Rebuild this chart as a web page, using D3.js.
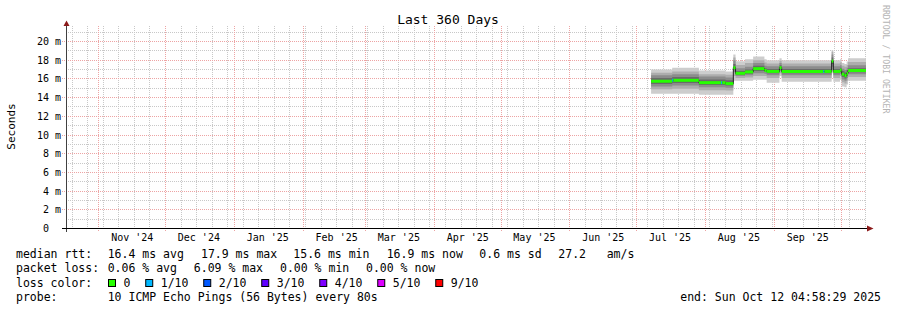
<!DOCTYPE html>
<meta charset="utf-8">
<style>
    body {
        margin: 0;
        background: #fff;
    }

    text {
        font-family: "DejaVu Sans Mono", monospace;
        fill: #000;
        white-space: pre;
    }

    .grid-minor line {
        stroke: #c8c8c8;
        stroke-dasharray: 1, 1;
    }

    .grid-major line {
        stroke: #eda4a4;
        stroke-dasharray: 1, 1;
    }

</style>
<svg width="897" height="310"></svg>
<script src="https://d3js.org/d3.v7.min.js"></script>
<script>
    var endTime = new Date("2025-10-12T04:58:29Z"),
        startTime = new Date(endTime.getTime() - 360 * 864e5);

    var yTicks = [0, 2, 4, 6, 8, 10, 12, 14, 16, 18, 20];
    var yTickLabels = ["0  ", "2 m", "4 m", "6 m", "8 m", "10 m", "12 m", "14 m", "16 m", "18 m", "20 m"];
    var yMinor = [1, 3, 5, 7, 9, 11, 13, 15, 17, 19, 21];

    var labelMonths = ["2024-11-01", "2024-12-01", "2025-01-01", "2025-02-01", "2025-03-01", "2025-04-01",
        "2025-05-01", "2025-06-01", "2025-07-01", "2025-08-01", "2025-09-01"];
    var monthLabels = ["Nov '24", "Dec '24", "Jan '25", "Feb '25", "Mar '25", "Apr '25",
        "May '25", "Jun '25", "Jul '25", "Aug '25", "Sep '25"];

    // one row per consolidated step (start time, median, loss in tenths, 10 sorted pings)
    var segStart = ["2025-07-07T12:00Z", "2025-07-17T00:00Z", "2025-07-17T12:00Z", "2025-07-29T00:00Z",
        "2025-08-08T00:00Z", "2025-08-08T12:00Z", "2025-08-10T00:00Z", "2025-08-13T12:00Z",
        "2025-08-14T12:00Z", "2025-08-18T18:00Z", "2025-08-22T10:00Z", "2025-08-27T12:00Z",
        "2025-08-28T12:00Z", "2025-09-03T06:00Z", "2025-09-04T06:00Z", "2025-09-23T00:00Z",
        "2025-09-23T12:00Z", "2025-09-26T18:00Z", "2025-09-27T12:00Z", "2025-09-30T12:00Z",
        "2025-10-01T06:00Z", "2025-10-02T12:00Z", "2025-10-03T12:00Z", "2025-10-04T03:00Z"];
    var medians = [15.75, 15.85, 15.85, 15.6, 15.6, 15.6, 15.5, 17.2, 16.6, 16.75, 17.1, 16.9,
        16.8, 17.2, 16.8, 16.8, 16.8, 17.9, 16.8, 16.95, 16.5, 16.35, 16.6, 16.9];
    var losses = [0, 1, 0, 0, 1, 0, 0, 0, 0, 0, 0, 0, 0, 0, 0, 1, 0, 0, 0, 0, 0, 0, 0, 0];
    var pings = [
        [14.4, 14.9, 15.2, 15.45, 15.65, 15.85, 16.1, 16.4, 16.65, 17.0],
        [14.4, 14.95, 15.3, 15.55, 15.75, 15.95, 16.2, 16.5, 16.8, 17.2],
        [14.4, 14.95, 15.3, 15.55, 15.75, 15.95, 16.2, 16.5, 16.8, 17.2],
        [14.3, 14.8, 15.1, 15.35, 15.5, 15.7, 15.95, 16.25, 16.5, 16.9],
        [14.3, 14.8, 15.1, 15.35, 15.5, 15.7, 15.95, 16.25, 16.5, 16.9],
        [14.3, 14.8, 15.1, 15.35, 15.5, 15.7, 15.95, 16.25, 16.5, 16.9],
        [14.3, 14.75, 15.05, 15.3, 15.45, 15.6, 15.85, 16.15, 16.45, 16.8],
        [15.8, 16.3, 16.7, 17.0, 17.15, 17.3, 17.6, 18.0, 18.3, 18.6],
        [15.8, 16.1, 16.3, 16.45, 16.55, 16.65, 16.85, 17.15, 17.5, 17.9],
        [15.8, 16.15, 16.4, 16.55, 16.7, 16.8, 17.0, 17.3, 17.7, 18.1],
        [15.9, 16.3, 16.6, 16.85, 17.05, 17.15, 17.4, 17.7, 18.0, 18.4],
        [15.9, 16.3, 16.55, 16.75, 16.85, 16.95, 17.15, 17.4, 17.75, 18.1],
        [15.6, 16.1, 16.4, 16.6, 16.75, 16.85, 17.05, 17.35, 17.65, 18.0],
        [16.3, 16.6, 16.85, 17.0, 17.15, 17.25, 17.45, 17.7, 17.95, 18.2],
        [15.7, 16.1, 16.4, 16.6, 16.75, 16.85, 17.05, 17.35, 17.65, 18.0],
        [15.7, 16.1, 16.4, 16.6, 16.75, 16.85, 17.05, 17.35, 17.65, 18.0],
        [15.7, 16.1, 16.4, 16.6, 16.75, 16.85, 17.05, 17.35, 17.65, 18.0],
        [16.6, 17.0, 17.3, 17.6, 17.8, 18.0, 18.3, 18.6, 18.9, 19.1],
        [15.7, 16.1, 16.4, 16.6, 16.75, 16.85, 17.05, 17.35, 17.65, 18.0],
        [15.9, 16.3, 16.55, 16.75, 16.9, 17.0, 17.2, 17.45, 17.75, 18.1],
        [15.2, 15.65, 15.95, 16.2, 16.4, 16.6, 16.85, 17.1, 17.4, 17.7],
        [15.1, 15.5, 15.8, 16.05, 16.25, 16.45, 16.7, 16.95, 17.3, 17.6],
        [15.4, 15.8, 16.1, 16.35, 16.5, 16.7, 16.95, 17.2, 17.5, 17.85],
        [15.8, 16.2, 16.5, 16.7, 16.85, 16.95, 17.15, 17.45, 17.8, 18.2]
    ];

    var lossLabels = ["0", "1/10", "2/10", "3/10", "4/10", "5/10", "9/10"];
    var lossColors = ["#26ff00", "#00b8ff", "#0059ff", "#5e00ff", "#7e00ff", "#dd00ff", "#ff0000"];
    var smokeShades = ["#cdcdcd", "#adadad", "#8c8c8c", "#6a6a6a", "#484848"];

    var rttStats = [16.4, 17.9, 15.6, 16.9], rttNames = ["avg", "max", "min", "now"];
    var rttSd = 0.6, rttAmS = 27.2;
    var lossStats = [0.06, 6.09, 0.00, 0.00];

    var svg = d3.select("svg");

    var x = d3.scaleUtc()
        .domain([startTime, endTime])
        .range([66, 866]);

    var y = d3.scaleLinear()
        .domain([0, 21.66])
        .range([228.5, 26]);

    var crisp = function (v) { return Math.round(v - 0.5) + 0.5; };

    // grid
    var minor = svg.append("g").attr("class", "grid-minor");
    minor.selectAll(".h").data(yMinor).enter().append("line")
        .attr("x1", 66).attr("x2", 866)
        .attr("y1", function (d) { return crisp(y(d)); })
        .attr("y2", function (d) { return crisp(y(d)); });
    minor.selectAll(".v").data(d3.utcSunday.range(startTime, endTime)).enter().append("line")
        .attr("x1", function (d) { return crisp(x(d)); })
        .attr("x2", function (d) { return crisp(x(d)); })
        .attr("y1", 26).attr("y2", 228);

    var major = svg.append("g").attr("class", "grid-major");
    major.selectAll(".h").data(yTicks.slice(1)).enter().append("line")
        .attr("x1", 62).attr("x2", 866)
        .attr("y1", function (d) { return crisp(y(d)); })
        .attr("y2", function (d) { return crisp(y(d)); });
    major.selectAll(".v").data(d3.utcMonth.range(startTime, endTime)).enter().append("line")
        .attr("x1", function (d) { return crisp(x(d)); })
        .attr("x2", function (d) { return crisp(x(d)); })
        .attr("y1", 26).attr("y2", 232);

    // smoke
    var steps = segStart.map(function (s, i) {
        return {t: new Date(s), med: medians[i], loss: losses[i], p: pings[i]};
    });
    var stepsEnd = steps.concat([Object.assign({}, steps[steps.length - 1], {t: endTime})]);

    smokeShades.forEach(function (shade, b) {
        var area = d3.area()
            .curve(d3.curveStepAfter)
            .x(function (d) { return x(d.t); })
            .y0(function (d) { return y(d.p[b]); })
            .y1(function (d) { return y(d.p[9 - b]); });
        svg.append("path")
            .datum(stepsEnd)
            .attr("fill", shade)
            .attr("d", area);
    });

    // median line: thin dark step line, then loss coloured bars
    svg.append("path")
        .datum(stepsEnd)
        .attr("fill", "none")
        .attr("stroke", "#202020")
        .attr("stroke-width", 1)
        .attr("d", d3.line().curve(d3.curveStepAfter)
            .x(function (d) { return x(d.t); })
            .y(function (d) { return y(d.med); }));

    svg.append("g").selectAll("line")
        .data(steps)
        .enter().append("line")
        .attr("x1", function (d) { return x(d.t); })
        .attr("x2", function (d, i) { return x(stepsEnd[i + 1].t); })
        .attr("y1", function (d) { return y(d.med); })
        .attr("y2", function (d) { return y(d.med); })
        .attr("stroke", function (d) { return lossColors[d.loss]; })
        .attr("stroke-width", 3);

    // axes
    svg.append("line")
        .attr("x1", 66.5).attr("x2", 66.5).attr("y1", 26).attr("y2", 232)
        .attr("stroke", "#404040");
    svg.append("line")
        .attr("x1", 62).attr("x2", 867).attr("y1", 228.5).attr("y2", 228.5)
        .attr("stroke", "#000");
    svg.append("path")
        .attr("d", "M63.5,26L66.5,20.5L69.5,26Z")
        .attr("fill", "#8b1a1a");
    svg.append("path")
        .attr("d", "M867,225.5L873.5,228.5L867,231.5Z")
        .attr("fill", "#8b1a1a");

    svg.append("g").selectAll("text")
        .data(yTicks)
        .enter().append("text")
        .attr("x", 61)
        .attr("y", function (d) { return y(d); })
        .attr("dy", ".35em")
        .attr("text-anchor", "end")
        .style("font-size", "10px")
        .text(function (d, i) { return yTickLabels[i]; });

    svg.append("g").selectAll("text")
        .data(labelMonths)
        .enter().append("text")
        .attr("x", function (d) { return x(d3.utcDay.offset(new Date(d + "T00:00Z"), 15)); })
        .attr("y", 241)
        .attr("text-anchor", "middle")
        .style("font-size", "10px")
        .text(function (d, i) { return monthLabels[i]; });

    // titles
    svg.append("text")
        .attr("x", 448).attr("y", 24)
        .attr("text-anchor", "middle")
        .style("font-size", "13px")
        .text("Last 360 Days");

    svg.append("text")
        .attr("transform", "translate(15,126.5) rotate(-90)")
        .attr("text-anchor", "middle")
        .style("font-size", "11px")
        .text("Seconds");

    svg.append("text")
        .attr("transform", "translate(883,5) rotate(90)")
        .style("font-size", "8.2px")
        .style("fill", "#b4b4b4")
        .text("RRDTOOL / TOBI OETIKER");

    // legend
    var fmt1 = d3.format(".1f"), fmt2 = d3.format(".2f");
    var legend = svg.append("g").style("font-size", "11.5px");

    function put(tx, ty, s) {
        return legend.append("text").attr("x", tx).attr("y", ty).text(s);
    }

    put(16, 258, "median rtt:");
    var rttX = [107.7, 201, 293.3, 386.7];
    rttStats.forEach(function (v, i) {
        put(rttX[i], 258, fmt1(v) + " ms " + rttNames[i]);
    });
    put(479.3, 258, fmt1(rttSd) + " ms sd");
    put(558.3, 258, fmt1(rttAmS));
    put(606.7, 258, "am/s");

    put(16, 272.3, "packet loss:");
    var lossX = [107.7, 193.8, 280, 366];
    lossStats.forEach(function (v, i) {
        put(lossX[i], 272.3, fmt2(v) + " % " + rttNames[i]);
    });

    put(16, 286.5, "loss color:");
    var lx = 108.5;
    lossLabels.forEach(function (lab, i) {
        legend.append("rect")
            .attr("x", lx).attr("y", 279.5).attr("width", 7).attr("height", 7)
            .attr("fill", lossColors[i]).attr("stroke", "#000");
        var t = put(lx + 15, 286.5, lab);
        lx = lx + 15 + t.node().getComputedTextLength() + 15.3;
    });

    put(16, 300.5, "probe:");
    put(107.7, 300.5, "10 ICMP Echo Pings (56 Bytes) every 80s");
    put(881, 300.5, "end: Sun Oct 12 04:58:29 2025").attr("text-anchor", "end");
</script>
